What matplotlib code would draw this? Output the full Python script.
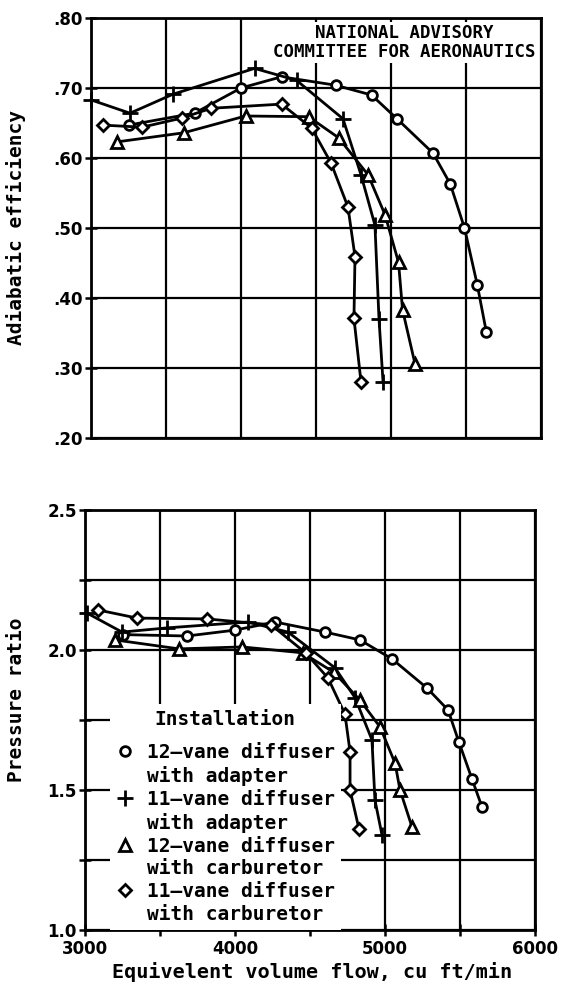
import numpy as np
import matplotlib
matplotlib.use("Agg")
import matplotlib.pyplot as plt
from matplotlib.lines import Line2D
from matplotlib.ticker import MultipleLocator, FixedLocator, NullFormatter

# Hiệu suất đoạn nhiệt (panel trên)
circ_x_eff = [3250, 3690, 4000, 4270, 4630, 4870, 5040, 5280, 5395, 5490, 5575, 5636]
circ_eff = [0.647, 0.664, 0.700, 0.716, 0.704, 0.690, 0.656, 0.607, 0.563, 0.500, 0.419, 0.351]
plus_x_eff = [3000, 3260, 3545, 4090, 4370, 4680, 4800, 4893, 4920, 4947]
plus_eff = [0.683, 0.664, 0.691, 0.728, 0.711, 0.656, 0.576, 0.504, 0.370, 0.280]
tri_x_eff = [3173, 3618, 4030, 4450, 4650, 4847, 4960, 5050, 5077, 5160]
tri_eff = [0.623, 0.636, 0.660, 0.659, 0.629, 0.576, 0.519, 0.451, 0.383, 0.306]
dia_x_eff = [3080, 3340, 3605, 3800, 4270, 4470, 4600, 4713, 4760, 4753, 4800]
dia_eff = [0.647, 0.644, 0.657, 0.671, 0.677, 0.643, 0.593, 0.530, 0.459, 0.371, 0.280]

# Tỉ số nén (panel dưới)
circ_x_pr = [3250, 3680, 4000, 4267, 4600, 4833, 5047, 5280, 5420, 5493, 5580, 5647]
circ_pr = [2.055, 2.050, 2.071, 2.100, 2.064, 2.036, 1.968, 1.864, 1.786, 1.671, 1.539, 1.439]
plus_x_pr = [3013, 3247, 3547, 4087, 4353, 4667, 4800, 4913, 4933, 4980]
plus_pr = [2.132, 2.064, 2.079, 2.100, 2.064, 1.936, 1.830, 1.679, 1.464, 1.339]
tri_x_pr = [3200, 3627, 4047, 4450, 4660, 4833, 4967, 5067, 5100, 5180]
tri_pr = [2.036, 2.004, 2.011, 1.990, 1.920, 1.821, 1.725, 1.596, 1.500, 1.368]
dia_x_pr = [3087, 3347, 3813, 4240, 4470, 4620, 4733, 4767, 4767, 4827]
dia_pr = [2.143, 2.114, 2.111, 2.090, 1.990, 1.900, 1.771, 1.636, 1.500, 1.360]

labels = ["12\u2013vane diffuser", "with adapter",
          "11\u2013vane diffuser", "with adapter",
          "12\u2013vane diffuser", "with carburetor",
          "11\u2013vane diffuser", "with carburetor"]
eff_ticks = [0.20, 0.30, 0.40, 0.50, 0.60, 0.70, 0.80]
pr_ticks = [1.0, 1.5, 2.0, 2.5]
x_ticks = [3000, 4000, 5000, 6000]

MONO = "DejaVu Sans Mono"
STYLES = [dict(marker="o", ms=7), dict(marker="+", ms=11),
          dict(marker="^", ms=8), dict(marker="D", ms=6.5)]


def draw(ax, series):
    for (x, y), st in zip(series, STYLES):
        ax.plot(x, y, color="black", lw=2.0, mfc="white", mec="black", mew=2.0,
                zorder=3, clip_on=False, **st)
    ax.set_xlim(3000, 6000)
    ax.grid(True, which="both", color="black", lw=1.6)
    for s in ax.spines.values():
        s.set_linewidth(2.0)
    ax.tick_params(which="both", direction="inout", length=8, width=1.8,
                   labelsize=12, pad=2)


fig = plt.figure(figsize=(5.67, 9.96), dpi=100)
ax1 = fig.add_axes([91 / 567, 1 - 438 / 996, 450 / 567, 420 / 996])
ax2 = fig.add_axes([85 / 567, 1 - 930 / 996, 450 / 567, 420 / 996])

draw(ax1, [(circ_x_eff, circ_eff), (plus_x_eff, plus_eff),
           (tri_x_eff, tri_eff), (dia_x_eff, dia_eff)])
ax1.set_ylim(0.20, 0.80)
ax1.xaxis.set_major_locator(MultipleLocator(500))
ax1.xaxis.set_major_formatter(NullFormatter())
ax1.tick_params(axis="x", length=0)
ax1.yaxis.set_major_locator(FixedLocator(eff_ticks))
ax1.set_yticklabels([f".{round(v * 100):02d}" for v in eff_ticks],
                    fontweight="bold", fontsize=12)
ax1.set_ylabel("Adiabatic efficiency", family=MONO, fontweight="bold", fontsize=14)
ax1.yaxis.set_label_coords(-0.144, 0.5)
ax1.text(0.696, 0.985, "NATIONAL ADVISORY\nCOMMITTEE FOR AERONAUTICS",
         transform=ax1.transAxes, ha="center", va="top", family=MONO,
         fontweight="bold", fontsize=12.5, linespacing=1.05, zorder=6,
         bbox=dict(facecolor="white", edgecolor="none", pad=1.5))

draw(ax2, [(circ_x_pr, circ_pr), (plus_x_pr, plus_pr),
           (tri_x_pr, tri_pr), (dia_x_pr, dia_pr)])
ax2.set_ylim(1.0, 2.5)
ax2.xaxis.set_major_locator(FixedLocator(x_ticks))
ax2.xaxis.set_minor_locator(MultipleLocator(500))
ax2.set_xticklabels([str(v) for v in x_ticks], fontweight="bold", fontsize=12)
ax2.yaxis.set_major_locator(FixedLocator(pr_ticks))
ax2.yaxis.set_minor_locator(MultipleLocator(0.25))
ax2.set_yticklabels([f"{v:.1f}" for v in pr_ticks], fontweight="bold", fontsize=12)
ax2.tick_params(axis="x", pad=3)
ax2.set_ylabel("Pressure ratio", family=MONO, fontweight="bold", fontsize=14)
ax2.yaxis.set_label_coords(-0.131, 0.548)
ax2.set_xlabel("Equivelent volume flow, cu ft/min", family=MONO,
               fontweight="bold", fontsize=14.5)
ax2.xaxis.set_label_coords(0.504, -0.075)

blank = Line2D([], [], linestyle="none", marker="")
handles = []
for st in STYLES:
    handles.append(Line2D([], [], linestyle="none", color="black", mfc="white",
                          mec="black", mew=2.0, **st))
    handles.append(blank)
leg = ax2.legend(handles, labels, title="Installation", loc="lower left",
                 bbox_to_anchor=(0.055, 0.0), frameon=True, fancybox=False,
                 facecolor="white", edgecolor="none", framealpha=1.0,
                 borderaxespad=0.0, borderpad=0.3, handlelength=1.0,
                 handletextpad=0.6, labelspacing=0.2,
                 prop=dict(family=MONO, weight="bold", size=14),
                 title_fontproperties=dict(family=MONO, weight="bold", size=14))
leg._legend_box.sep = 10
leg.set_zorder(5)

fig.savefig("out.png", dpi=100)
